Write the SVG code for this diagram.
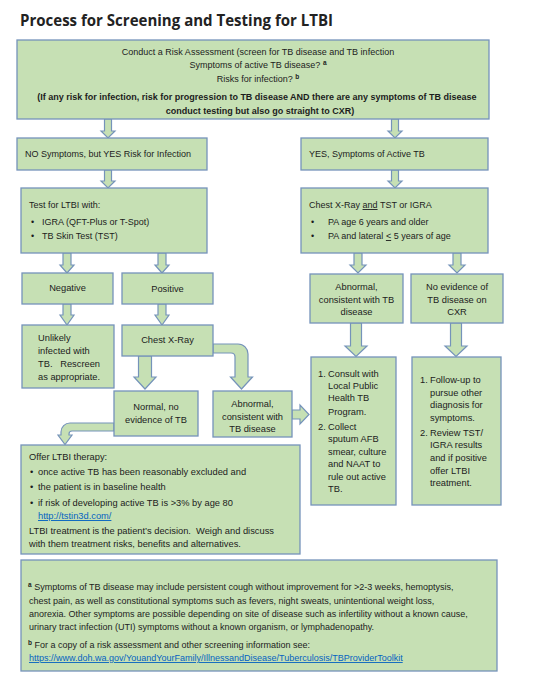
<svg xmlns="http://www.w3.org/2000/svg" width="538" height="674" viewBox="0 0 538 674">
<style>
.box{fill:#C6E0B4;stroke:#7593BA;stroke-width:1.3}
.arr{fill:#C6E0B4;stroke:#7593BA;stroke-width:1.2;stroke-linejoin:miter}
text{font-family:"Liberation Sans",Arial,sans-serif;fill:#1c1c1c}
.t9{font-size:9px}
.t93{font-size:9.3px}
.c{text-anchor:middle}
.b{font-weight:bold}
.sup{font-size:6.5px;font-weight:bold}
.link{fill:#0563C1;text-decoration:underline}
.title{font-family:"Open Sans","Liberation Sans",sans-serif;font-size:15.5px;font-weight:bold;fill:#222}
</style>
<rect width="538" height="674" fill="#ffffff"/>
<text class="title" x="20" y="26" textLength="313" lengthAdjust="spacingAndGlyphs">Process for Screening and Testing for LTBI</text>

<g id="connectors">
  <polygon class="arr" points="104.5,119 111.5,119 111.5,131 115,131 108,138 101,131 104.5,131"/>
  <polygon class="arr" points="391.5,119 398.5,119 398.5,131 402,131 395,138 388,131 391.5,131"/>
  <polygon class="arr" points="104.5,170 111.5,170 111.5,181 115,181 108,188 101,181 104.5,181"/>
  <polygon class="arr" points="391.5,170 398.5,170 398.5,181 402,181 395,188 388,181 391.5,181"/>
  <polygon class="arr" points="63,253 71,253 71,265 74,265 67,273 60,265 63,265"/>
  <polygon class="arr" points="158,253 166,253 166,265 169,265 162,273 155,265 158,265"/>
  <polygon class="arr" points="63,304 71,304 71,315 74,315 67,325 60,315 63,315"/>
  <polygon class="arr" points="158,304 166,304 166,315 169,315 162,325 155,315 158,315"/>
  <polygon class="arr" points="138.5,356 151.5,356 151.5,377 156,377 145,389 134,377 138.5,377"/>
  <path class="arr" d="M213,344 H238 A10,10 0 0 1 248,354 V377 H252.5 L241.5,389 L230.5,377 H235 V357 Q235,353 231,353 H213 Z"/>
  <polygon class="arr" points="292,410 300,410 300,405 309,414.5 300,424 300,419 292,419"/>
  <path class="arr" d="M114,423 H70 A9,9 0 0 0 61,432 V435 H58 L65,444.5 L72,435 H69 V434 Q69,431 72,431 H114 Z"/>
  <polygon class="arr" points="354,253 362,253 362,265 366,265 358,273 350,265 354,265"/>
  <polygon class="arr" points="453,253 461,253 461,265 465,265 457,273 449,265 453,265"/>
  <polygon class="arr" points="350.5,323 361.5,323 361.5,346 367,346 356,356.5 345,346 350.5,346"/>
  <polygon class="arr" points="450.5,323 461.5,323 461.5,346 467,346 456,356.5 445,346 450.5,346"/>
</g>

<g id="risk-assessment">
  <rect class="box" x="17" y="40" width="472" height="79"/>
  <text class="t9 c" x="258" y="55">Conduct a Risk Assessment (screen for TB disease and TB infection</text>
  <text class="t9 c" x="258" y="68">Symptoms of active TB disease?  <tspan class="sup" dy="-3">a</tspan></text>
  <text class="t9 c" x="258" y="82">Risks for infection?  <tspan class="sup" dy="-3">b</tspan></text>
  <text class="t9 c b" x="257" y="100">(If any risk for infection, risk for progression to TB disease AND there are any symptoms of TB disease</text>
  <text class="t9 c b" x="260" y="114">conduct testing but also go straight to CXR)</text>
</g>

<g id="no-symptoms">
  <rect class="box" x="17" y="138" width="190" height="32"/>
  <text class="t9" x="25" y="157">NO Symptoms, but YES Risk for Infection</text>
</g>

<g id="yes-symptoms">
  <rect class="box" x="301" y="138" width="187" height="32"/>
  <text class="t9" x="309" y="157">YES, Symptoms of Active TB</text>
</g>

<g id="test-ltbi">
  <rect class="box" x="21" y="188" width="186" height="65"/>
  <text class="t9" x="29" y="208">Test for LTBI with:</text>
  <text class="t9" x="31" y="225">•</text>
  <text class="t9" x="42" y="225">IGRA (QFT-Plus or T-Spot)</text>
  <text class="t9" x="31" y="239">•</text>
  <text class="t9" x="42" y="239">TB Skin Test (TST)</text>
</g>

<g id="chest-xray-tst">
  <rect class="box" x="301" y="188" width="187" height="65"/>
  <text class="t9" x="309" y="208">Chest X-Ray <tspan text-decoration="underline">and</tspan> TST or IGRA</text>
  <text class="t9" x="311" y="225">•</text>
  <text class="t9" x="328" y="225">PA age 6 years and older</text>
  <text class="t9" x="311" y="239">•</text>
  <text class="t9" x="328" y="239">PA and lateral <tspan text-decoration="underline">&lt;</tspan> 5 years of age</text>
</g>

<g id="negative">
  <rect class="box" x="22" y="273" width="91" height="31"/>
  <text class="t93 c" x="67.5" y="291">Negative</text>
</g>

<g id="positive">
  <rect class="box" x="122" y="273" width="91" height="31"/>
  <text class="t93 c" x="167.5" y="292">Positive</text>
</g>

<g id="unlikely">
  <rect class="box" x="22" y="325" width="92" height="63"/>
  <text class="t93" x="38" y="341">Unlikely</text>
  <text class="t93" x="38" y="354">infected with</text>
  <text class="t93" x="38" y="367" xml:space="preserve">TB.   Rescreen</text>
  <text class="t93" x="38" y="380">as appropriate.</text>
</g>

<g id="chest-xray">
  <rect class="box" x="122" y="325" width="91" height="31"/>
  <text class="t93 c" x="167.5" y="343">Chest X-Ray</text>
</g>

<g id="normal">
  <rect class="box" x="114" y="391" width="84" height="45"/>
  <text class="t93 c" x="156" y="410">Normal, no</text>
  <text class="t93 c" x="156" y="423">evidence of TB</text>
</g>

<g id="abnormal-left">
  <rect class="box" x="213" y="391" width="79" height="46"/>
  <text class="t93 c" x="252.5" y="407">Abnormal,</text>
  <text class="t93 c" x="252.5" y="420">consistent with</text>
  <text class="t93 c" x="252.5" y="432">TB disease</text>
</g>

<g id="offer-ltbi">
  <rect class="box" x="21" y="445" width="279" height="109"/>
  <text class="t93" x="29" y="460">Offer LTBI therapy:</text>
  <text class="t93" x="30" y="475">•</text>
  <text class="t93" x="38" y="475">once active TB has been reasonably excluded and</text>
  <text class="t93" x="30" y="490">•</text>
  <text class="t93" x="38" y="490">the patient is in baseline health</text>
  <text class="t93" x="30" y="506">•</text>
  <text class="t93" x="38" y="506">if risk of developing active TB is &gt;3% by age 80</text>
  <text class="t93 link" x="38" y="519">http://tstin3d.com/</text>
  <text class="t93" x="29" y="534" xml:space="preserve">LTBI treatment is the patient’s decision.  Weigh and discuss</text>
  <text class="t93" x="29" y="547">with them treatment risks, benefits and alternatives.</text>
</g>

<g id="abnormal-right">
  <rect class="box" x="310" y="274" width="93" height="49"/>
  <text class="t93 c" x="356.5" y="290">Abnormal,</text>
  <text class="t93 c" x="356.5" y="303">consistent with TB</text>
  <text class="t93 c" x="356.5" y="315">disease</text>
</g>

<g id="no-evidence">
  <rect class="box" x="411" y="274" width="92" height="49"/>
  <text class="t93 c" x="457" y="290">No evidence of</text>
  <text class="t93 c" x="457" y="303">TB disease on</text>
  <text class="t93 c" x="457" y="315">CXR</text>
</g>

<g id="consult">
  <rect class="box" x="311" y="357" width="85" height="148"/>
  <text class="t93" x="318" y="377">1.</text>
  <text class="t93" x="328" y="377">Consult with</text>
  <text class="t93" x="328" y="389">Local Public</text>
  <text class="t93" x="328" y="401">Health TB</text>
  <text class="t93" x="328" y="415">Program.</text>
  <text class="t93" x="318" y="430">2.</text>
  <text class="t93" x="328" y="430">Collect</text>
  <text class="t93" x="328" y="442">sputum AFB</text>
  <text class="t93" x="328" y="455">smear, culture</text>
  <text class="t93" x="328" y="467">and NAAT to</text>
  <text class="t93" x="328" y="480">rule out active</text>
  <text class="t93" x="328" y="492">TB.</text>
</g>

<g id="follow-up">
  <rect class="box" x="412" y="357" width="89" height="148"/>
  <text class="t93" x="420" y="383">1.</text>
  <text class="t93" x="430" y="383">Follow-up to</text>
  <text class="t93" x="430" y="396">pursue other</text>
  <text class="t93" x="430" y="408">diagnosis for</text>
  <text class="t93" x="430" y="421">symptoms.</text>
  <text class="t93" x="420" y="436">2.</text>
  <text class="t93" x="430" y="436">Review TST/</text>
  <text class="t93" x="430" y="448">IGRA results</text>
  <text class="t93" x="430" y="461">and if positive</text>
  <text class="t93" x="430" y="474">offer LTBI</text>
  <text class="t93" x="430" y="486">treatment.</text>
</g>

<g id="footnotes">
  <rect class="box" x="21" y="560" width="476" height="111"/>
  <text class="t9" x="28" y="590"><tspan class="sup" dy="-3">a</tspan><tspan dy="3"> Symptoms of TB disease may include persistent cough without improvement for &gt;2-3 weeks, hemoptysis,</tspan></text>
  <text class="t9" x="29" y="604">chest pain, as well as constitutional symptoms such as fevers, night sweats, unintentional weight loss,</text>
  <text class="t9" x="29" y="617">anorexia. Other symptoms are possible depending on site of disease such as infertility without a known cause,</text>
  <text class="t9" x="29" y="630">urinary tract infection (UTI) symptoms without a known organism, or lymphadenopathy.</text>
  <text class="t9" x="28" y="648"><tspan class="sup" dy="-3">b</tspan><tspan dy="3"> For a copy of a risk assessment and other screening information see:</tspan></text>
  <text class="t9 link" x="29" y="661">https://www.doh.wa.gov/YouandYourFamily/IllnessandDisease/Tuberculosis/TBProviderToolkit</text>
</g>
</svg>
